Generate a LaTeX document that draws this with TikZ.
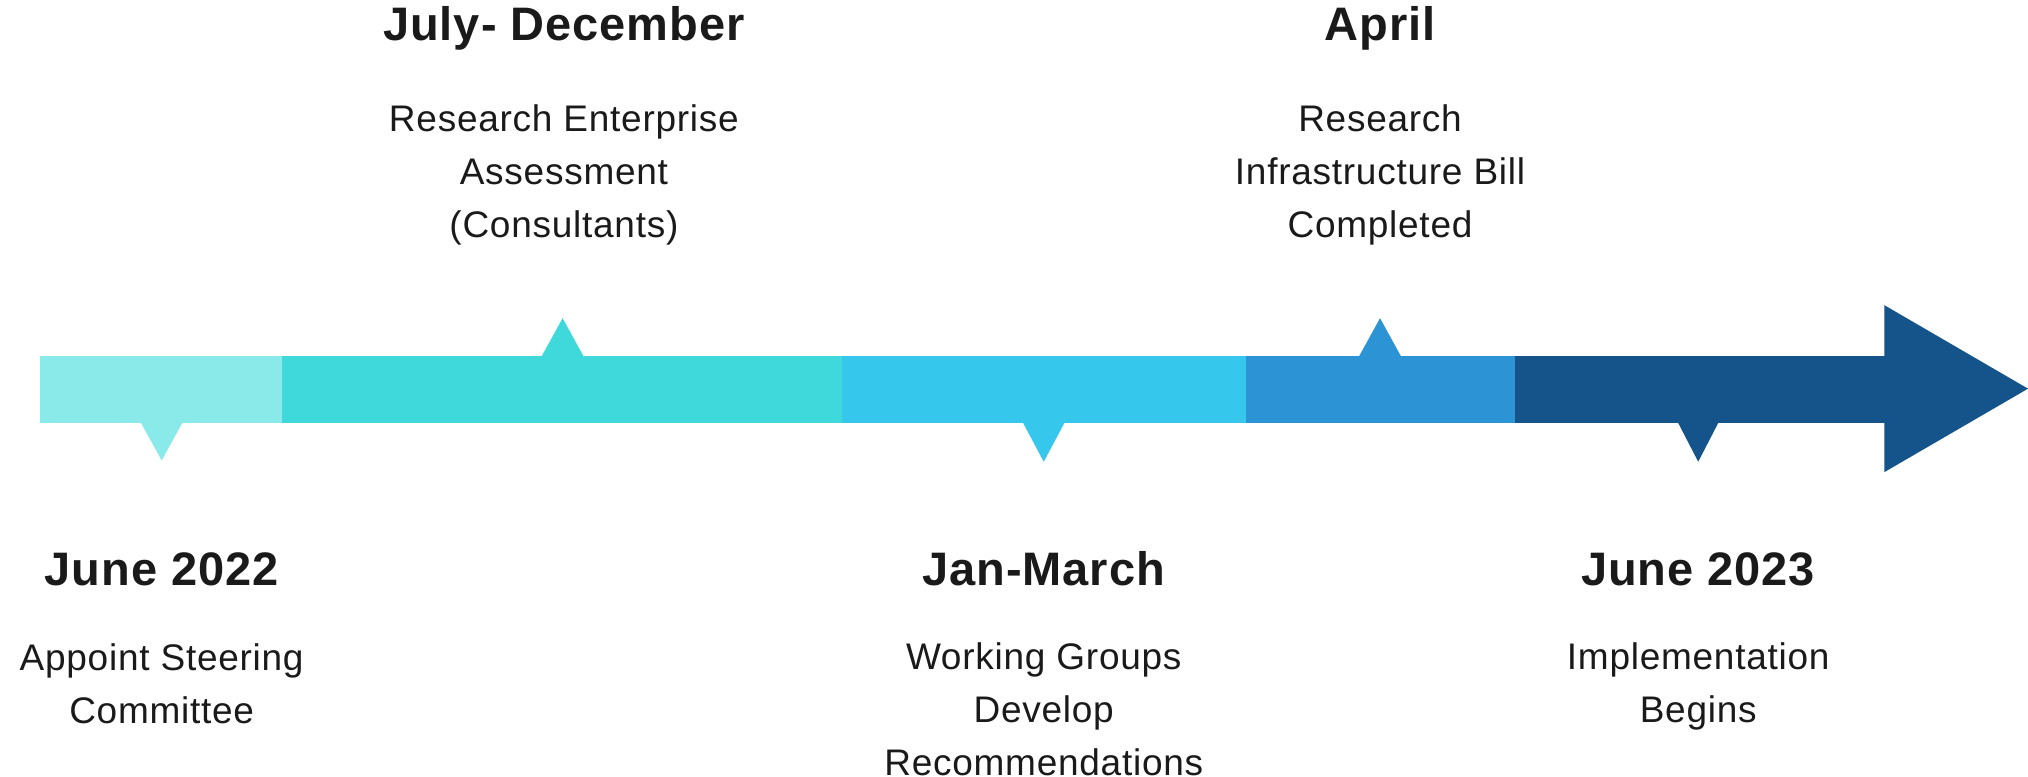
\documentclass[tikz,border=0pt]{standalone}
\usepackage{fontspec}
\setmainfont{Liberation Sans}[LetterSpace=2]
\definecolor{cA}{HTML}{8AEAE9}
\definecolor{cB}{HTML}{40D9DB}
\definecolor{cC}{HTML}{36C7ED}
\definecolor{cD}{HTML}{2C93D5}
\definecolor{cE}{HTML}{14548A}
\definecolor{ink}{HTML}{1A1A1A}
\begin{document}
\begin{tikzpicture}[x=0.6467pt,y=-0.6467pt,
  title/.style={text=ink,inner sep=0pt,font=\fontsize{23.5}{26}\selectfont\bfseries},
  body/.style={text=ink,inner sep=0pt,align=center,font=\fontsize{18.5}{26.5}\selectfont}]
\useasboundingbox (0,0) rectangle (1568,600);
% bar segments
\fill[cA] (31,275) rectangle (218,327);
\fill[cB] (218,275) rectangle (651,327);
\fill[cC] (651,275) rectangle (963,327);
\fill[cD] (963,275) rectangle (1171,327);
\fill[cE] (1171,275) rectangle (1458,327);
\fill[cE] (1457,236) -- (1568,300.5) -- (1457,365) -- cycle;
% markers
\fill[cA] (108.5,326) -- (125,356) -- (141.5,326) -- cycle;
\fill[cB] (418.5,276) -- (435,246) -- (451.5,276) -- cycle;
\fill[cC] (790.5,326) -- (807,357) -- (823.5,326) -- cycle;
\fill[cD] (1050.5,276) -- (1067,246) -- (1083.5,276) -- cycle;
\fill[cE] (1297,326) -- (1313,357) -- (1329,326) -- cycle;
% labels
\node[title] (t1) at (125,440) {June 2022};
\node[body] (b1) at (125,528.5) {Appoint Steering\\Committee};
\node[title] (t2) at (436,22) {July- December};
\node[body] (b2) at (436,135) {Research Enterprise\\Assessment\\(Consultants)};
\node[title] (t3) at (807,440) {Jan-March};
\node[body] (b3) at (807,548) {Working Groups\\Develop\\Recommendations};
\node[title] (t4) at (1067,22) {April};
\node[body] (b4) at (1067,135) {Research\\Infrastructure Bill\\Completed};
\node[title] (t5) at (1313,440) {June 2023};
\node[body] (b5) at (1313,530.5) {Implementation\\Begins};
\end{tikzpicture}
\end{document}
